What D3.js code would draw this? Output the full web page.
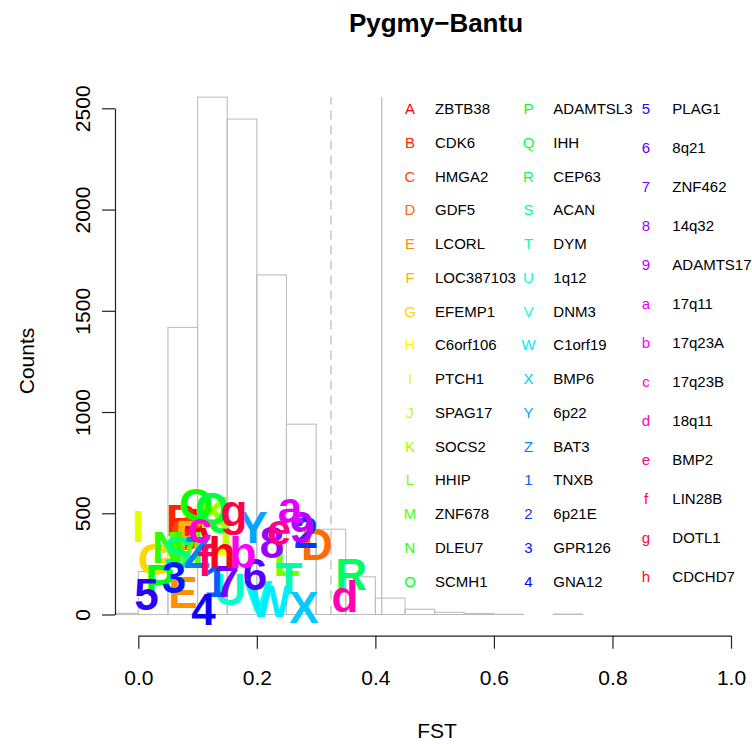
<!DOCTYPE html>
<html>
<head>
<meta charset="utf-8">
<script src="https://cdn.jsdelivr.net/npm/d3@7"></script>
<style>
  html, body { margin: 0; padding: 0; background: #fff; }
  svg { display: block; font-family: "Liberation Sans", Arial, Helvetica, sans-serif; }
</style>
</head>
<body>
<svg id="chart" width="752" height="744"></svg>
<script>
// Histogram of FST values (bin width 0.05, first bin starts at -0.05)
const binStart = -0.05;
const binWidth = 0.05;
const binCounts = [6, 212, 1418, 2555, 2447, 1677, 940, 421, 186, 81, 26, 11, 5, 1, 0, 2];

// Reference lines (FST) drawn from 0 up to the tallest bin
const dashedFst = 0.3251;
const solidFst = 0.4107;

// Locus codes, gene / region names, and where each code is placed (FST, count)
const codes = ["A","B","C","D","E","F","G","H","I","J","K","L","M","N","O",
               "P","Q","R","S","T","U","V","W","X","Y","Z","1","2","3","4",
               "5","6","7","8","9","a","b","c","d","e","f","g","h"];
const genes = ["ZBTB38","CDK6","HMGA2","GDF5","LCORL","LOC387103","EFEMP1","C6orf106","PTCH1","SPAG17","SOCS2","HHIP","ZNF678","DLEU7","SCMH1",
               "ADAMTSL3","IHH","CEP63","ACAN","DYM","1q12","DNM3","C1orf19","BMP6","6p22","BAT3","TNXB","6p21E","GPR126","GNA12",
               "PLAG1","8q21","ZNF462","14q32","ADAMTS17","17q11","17q23A","17q23B","18q11","BMP2","LIN28B","DOTL1","CDCHD7"];
const markFst = [0.0957,0.0737,0.0805,0.3015,0.0754,0.0855,0.0282,0.1463,0.0,0.1378,0.1294,0.2509,0.0788,0.0501,0.0974,
                 0.0366,0.1243,0.3589,0.0670,0.2543,0.1547,0.2020,0.2222,0.2796,0.1935,0.0990,0.1311,0.2829,0.0602,0.1100,
                 0.0138,0.1969,0.1497,0.2256,0.2762,0.2559,0.1767,0.1041,0.3488,0.2374,0.1125,0.1615,0.1412];
const markCount = [446,466,397,347,110,387,273,308,436,387,505,268,332,332,545,
                   169,525,199,308,179,124,90,66,36,431,308,164,406,184,26,
                   100,199,164,357,431,530,308,431,90,421,268,515,308];

// Axis ticks
const xTicks = [0, 0.2, 0.4, 0.6, 0.8, 1.0];
const yTicks = [0, 500, 1000, 1500, 2000, 2500];

const svg = d3.select("#chart");
svg.append("rect").attr("width", 752).attr("height", 744).attr("fill", "#fff");

const x = d3.scaleLinear().domain([0, 1]).range([138.3, 731]);
const y = d3.scaleLinear().domain([0, 2500]).range([614.5, 108.3]);

// rainbow palette, one hue per locus
const color = i => d3.hsl(360 * i / codes.length, 1, 0.5).formatHex();

// plot region clip (x range expanded 4%)
svg.append("clipPath").attr("id", "plotClip")
  .append("rect")
  .attr("x", x(-0.04)).attr("y", 0)
  .attr("width", x(1.04) - x(-0.04)).attr("height", 650);

const plot = svg.append("g").attr("clip-path", "url(#plotClip)");

// bars
const bins = binCounts.map((c, i) => ({ x0: binStart + i * binWidth, x1: binStart + (i + 1) * binWidth, count: c }));
plot.selectAll("rect.bar").data(bins).join("rect")
  .attr("class", "bar")
  .attr("x", d => x(d.x0))
  .attr("width", d => x(d.x1) - x(d.x0))
  .attr("y", d => y(d.count))
  .attr("height", d => y(0) - y(d.count))
  .attr("fill", "none")
  .attr("stroke", "#bebebe")
  .attr("stroke-width", 1.1);

const maxCount = d3.max(binCounts);
plot.append("line")
  .attr("x1", x(dashedFst)).attr("x2", x(dashedFst))
  .attr("y1", y(0)).attr("y2", y(maxCount))
  .attr("stroke", "#bebebe").attr("stroke-width", 1.3)
  .attr("stroke-dasharray", "9,6");
plot.append("line")
  .attr("x1", x(solidFst)).attr("x2", x(solidFst))
  .attr("y1", y(0)).attr("y2", y(maxCount))
  .attr("stroke", "#bebebe").attr("stroke-width", 1.3);

// locus codes in the histogram
plot.selectAll("text.mark").data(codes).join("text")
  .attr("class", "mark")
  .attr("x", (d, i) => x(markFst[i]))
  .attr("y", (d, i) => y(markCount[i]))
  .attr("dy", "0.358em")
  .attr("text-anchor", "middle")
  .attr("font-size", 44)
  .attr("font-weight", "bold")
  .attr("fill", (d, i) => color(i))
  .text(d => d);

// axes
const xAxis = svg.append("g")
  .attr("transform", "translate(0,635.7)")
  .call(d3.axisBottom(x).tickValues(xTicks).tickFormat(d3.format(".1f"))
        .tickSize(13).tickSizeOuter(0).tickPadding(21.3));
xAxis.select(".domain").attr("stroke", "#222").attr("stroke-width", 1.2);
xAxis.selectAll(".tick line").attr("stroke", "#222").attr("stroke-width", 1.2);
xAxis.selectAll(".tick text").attr("font-size", 21).attr("fill", "#000")
  .attr("font-family", "'Liberation Sans', Arial, Helvetica, sans-serif");

const yAxis = svg.append("g")
  .attr("transform", "translate(115,0)")
  .call(d3.axisLeft(y).tickValues(yTicks).tickFormat(d3.format("d"))
        .tickSize(13).tickSizeOuter(0));
yAxis.select(".domain").attr("stroke", "#222").attr("stroke-width", 1.2);
yAxis.selectAll(".tick line").attr("stroke", "#222").attr("stroke-width", 1.2);
yAxis.selectAll(".tick text")
  .attr("x", null).attr("dy", null)
  .attr("transform", "translate(-25,0) rotate(-90)")
  .attr("text-anchor", "middle")
  .attr("font-size", 21).attr("fill", "#000")
  .attr("font-family", "'Liberation Sans', Arial, Helvetica, sans-serif");

// titles
svg.append("text").attr("x", 436).attr("y", 32)
  .attr("text-anchor", "middle").attr("font-size", 26).attr("font-weight", "bold")
  .text("Pygmy\u2212Bantu");
svg.append("text").attr("x", 437).attr("y", 738)
  .attr("text-anchor", "middle").attr("font-size", 21).text("FST");
svg.append("text").attr("transform", "translate(34,361) rotate(-90)")
  .attr("text-anchor", "middle").attr("font-size", 21).text("Counts");

// legend: three columns
const legendCols = [
  { start: 0, end: 15, keyX: 410, labelX: 435, top: 114, step: 33.76 },
  { start: 15, end: 30, keyX: 528.5, labelX: 553.3, top: 114, step: 33.76 },
  { start: 30, end: 43, keyX: 646, labelX: 672.3, top: 114, step: 38.97 }
];
const legend = svg.append("g");
legendCols.forEach(col => {
  d3.range(col.start, col.end).forEach((i, r) => {
    const by = col.top + r * col.step;
    legend.append("text").attr("x", col.keyX).attr("y", by)
      .attr("text-anchor", "middle").attr("font-size", 15)
      .attr("fill", color(i)).text(codes[i]);
    legend.append("text").attr("x", col.labelX).attr("y", by)
      .attr("font-size", 15).attr("fill", "#000").text(genes[i]);
  });
});
</script>
</body>
</html>
